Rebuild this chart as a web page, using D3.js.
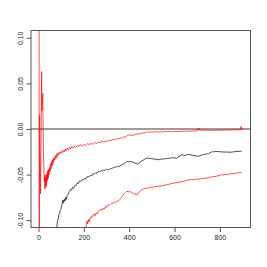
<!DOCTYPE html>
<html><head><meta charset="utf-8">
<script src="https://cdn.jsdelivr.net/npm/d3@7"></script>
<style>body{margin:0;background:#fff}svg{display:block}</style>
</head><body>
<script>
const xTicks = [0, 200, 400, 600, 800];
const yTicks = [-0.10, -0.05, 0.00, 0.05, 0.10];
const yTickLabels = ["-0.10", "-0.05", "0.00", "0.05", "0.10"];

const upperN = [2,3,5,7,9,11,13,14,15,17,19,20,22,24,26,27,28,30,31,33,34,36,37,39,40,42,43,45,47,49,51,53,55,57,59,61,63,65,67,70,72,75,78,81,84,87,90,94,98,102,106,110,114,118,122,127,132,137,142,147,153,159,165,172,178,185,192,200,208,216,224,232,240,248,256,264,272,280,288,296,304,312,320,328,336,344,352,360,368,376,384,392,400,408,416,424,432,440,448,456,464,472,480,490,500,510,520,530,540,550,560,570,580,590,600,610,620,630,640,650,660,670,680,690,700,703,705,708,712,720,730,740,750,760,770,780,790,800,810,820,830,840,850,860,870,880,890,894,896,900];
const upperV = [0.9,-0.25,0.015,-0.035,-0.071,-0.02,0.045,0.063,0.02,0.03,0.039,0.01,-0.025,-0.045,-0.058,-0.052,-0.066,-0.05,-0.062,-0.055,-0.064,-0.05,-0.058,-0.047,-0.056,-0.045,-0.054,-0.044,-0.05,-0.042,-0.047,-0.038,-0.044,-0.036,-0.041,-0.034,-0.039,-0.032,-0.036,-0.031,-0.034,-0.029,-0.032,-0.027,-0.03,-0.026,-0.028,-0.025,-0.027,-0.024,-0.026,-0.023,-0.025,-0.022,-0.024,-0.021,-0.023,-0.02,-0.022,-0.019,-0.021,-0.019,-0.02,-0.018,-0.019,-0.017,-0.019,-0.017,-0.018,-0.016,-0.017,-0.016,-0.0168,-0.015,-0.016,-0.0145,-0.015,-0.0135,-0.0142,-0.013,-0.0138,-0.012,-0.0128,-0.0115,-0.012,-0.0105,-0.011,-0.0098,-0.0102,-0.0085,-0.009,-0.007,-0.0065,-0.0068,-0.0072,-0.0062,-0.0055,-0.0058,-0.0045,-0.005,-0.004,-0.0045,-0.003,-0.0036,-0.003,-0.0035,-0.0028,-0.0034,-0.003,-0.0033,-0.0026,-0.003,-0.0025,-0.0032,-0.0027,-0.003,-0.0024,-0.0028,-0.0022,-0.0027,-0.0021,-0.0025,-0.002,-0.0023,-0.0017,0.0005,-0.0013,0.0008,-0.0014,-0.0012,-0.0016,-0.0011,-0.0015,-0.0012,-0.0017,-0.0012,-0.0014,-0.0011,-0.0015,-0.001,-0.0013,-0.0009,-0.0012,-0.0008,-0.0011,-0.0007,-0.0009,0.003,-0.0005,0.001];

const meanN = [75,81,84,87,90,93,96,99,102,105,108,111,114,117,120,123,126,130,134,138,142,146,150,155,160,165,170,175,180,186,192,198,204,210,216,222,228,234,240,246,252,258,264,270,276,282,288,294,300,306,312,318,324,330,336,342,348,354,360,366,372,378,384,390,396,403,410,417,424,431,438,444,450,456,462,468,474,482,490,498,506,514,522,530,538,546,554,562,570,578,586,594,602,610,616,620,625,630,638,646,654,662,670,678,686,694,703,712,720,728,736,744,750,756,762,768,772,776,782,792,800,810,820,830,840,851,860,870,880,890,896];
const meanV = [-0.13,-0.108,-0.1,-0.099,-0.094,-0.093,-0.089,-0.088,-0.084,-0.082,-0.078,-0.081,-0.077,-0.079,-0.075,-0.077,-0.073,-0.072,-0.069,-0.068,-0.066,-0.067,-0.064,-0.065,-0.062,-0.062,-0.0595,-0.06,-0.057,-0.0575,-0.0555,-0.056,-0.054,-0.0545,-0.052,-0.0525,-0.051,-0.0515,-0.049,-0.0495,-0.048,-0.0485,-0.0465,-0.047,-0.0455,-0.046,-0.045,-0.0455,-0.044,-0.0448,-0.0442,-0.0435,-0.043,-0.0425,-0.042,-0.0415,-0.041,-0.0415,-0.0405,-0.0395,-0.039,-0.038,-0.037,-0.0355,-0.0358,-0.0355,-0.0358,-0.0365,-0.0372,-0.0378,-0.0384,-0.037,-0.036,-0.035,-0.034,-0.0335,-0.032,-0.0319,-0.0322,-0.0325,-0.0328,-0.033,-0.0335,-0.0337,-0.0332,-0.033,-0.0328,-0.0325,-0.0322,-0.032,-0.0318,-0.0315,-0.0318,-0.032,-0.031,-0.0295,-0.0298,-0.028,-0.0285,-0.029,-0.0282,-0.028,-0.0283,-0.0287,-0.029,-0.0295,-0.030,-0.0292,-0.0285,-0.028,-0.0278,-0.0272,-0.027,-0.0262,-0.0255,-0.0245,-0.0255,-0.0242,-0.0248,-0.0247,-0.0249,-0.0251,-0.0253,-0.0252,-0.0255,-0.0254,-0.025,-0.0248,-0.0246,-0.0244,-0.0243];

const lowerN = [205,211,214,217,220,224,228,232,236,240,245,250,255,260,265,270,275,280,285,290,295,300,306,312,318,324,330,336,342,348,354,360,366,372,378,384,390,396,403,410,417,424,431,438,444,450,456,462,470,476,482,490,498,506,514,522,530,538,546,554,562,571,580,590,600,610,620,630,640,650,659,668,676,684,692,700,708,716,724,732,740,748,756,764,772,780,788,796,806,814,822,830,838,846,854,862,870,878,886,895];
const lowerV = [-0.115,-0.106,-0.101,-0.104,-0.099,-0.102,-0.097,-0.098,-0.095,-0.096,-0.093,-0.095,-0.092,-0.093,-0.09,-0.0895,-0.088,-0.089,-0.087,-0.088,-0.085,-0.086,-0.083,-0.084,-0.0825,-0.081,-0.0815,-0.08,-0.0805,-0.079,-0.0785,-0.077,-0.075,-0.073,-0.071,-0.0695,-0.068,-0.069,-0.0685,-0.0695,-0.0705,-0.0712,-0.0717,-0.0715,-0.069,-0.0675,-0.0665,-0.066,-0.065,-0.0652,-0.0645,-0.0642,-0.0635,-0.0638,-0.063,-0.0632,-0.0625,-0.0627,-0.062,-0.0618,-0.0612,-0.061,-0.0602,-0.0598,-0.059,-0.0588,-0.0582,-0.0578,-0.0572,-0.0568,-0.056,-0.0554,-0.0556,-0.0553,-0.0555,-0.0548,-0.055,-0.0545,-0.0542,-0.0544,-0.0538,-0.0536,-0.053,-0.0525,-0.052,-0.0522,-0.0515,-0.0512,-0.050,-0.0505,-0.0498,-0.0502,-0.0495,-0.0492,-0.0488,-0.049,-0.0485,-0.0482,-0.048,-0.0475];

const W = 267, H = 267;
const L = 31, R = 250.5, T = 30.5, B = 227.5;
const svg = d3.select("body").append("svg").attr("width", W).attr("height", H)
  .style("font-family", "'Liberation Sans', Arial, sans-serif");
svg.append("rect").attr("width", W).attr("height", H).attr("fill", "#fff");

const x = d3.scaleLinear().domain([-33, 935]).range([L, R]);
const y = d3.scaleLinear().domain([-0.108, 0.108]).range([B, T]);

svg.append("clipPath").attr("id", "clip").append("rect")
  .attr("x", L).attr("y", T).attr("width", R - L).attr("height", B - T);

const g = svg.append("g").attr("clip-path", "url(#clip)");
const line = d3.line().x(d => x(d[0])).y(d => y(d[1]));
const zip = (a, b) => a.map((v, i) => [v, b[i]]);

g.append("line").attr("x1", L).attr("x2", R).attr("y1", y(0)).attr("y2", y(0))
  .attr("stroke", "#222").attr("stroke-width", 0.9);

g.append("path").datum(zip(upperN, upperV)).attr("d", line)
  .attr("fill", "none").attr("stroke", "#ff0000").attr("stroke-width", 0.7);
g.append("path").datum(zip(lowerN, lowerV)).attr("d", line)
  .attr("fill", "none").attr("stroke", "#ff0000").attr("stroke-width", 0.7);
g.append("path").datum(zip(meanN, meanV)).attr("d", line)
  .attr("fill", "none").attr("stroke", "#000").attr("stroke-width", 0.7);

// box
svg.append("rect").attr("x", L).attr("y", T).attr("width", R - L).attr("height", B - T)
  .attr("fill", "none").attr("stroke", "#555").attr("stroke-width", 1);

// x axis
const xa = svg.append("g").attr("transform", `translate(0,${B})`)
  .call(d3.axisBottom(x).tickValues(xTicks).tickFormat(d3.format("d")).tickSize(4.5).tickPadding(3.5));
xa.select(".domain").remove();
xa.selectAll("line").attr("stroke", "#555");
xa.selectAll("text").attr("font-size", 7).attr("fill", "#222").attr("font-family", "'Liberation Sans', Arial, sans-serif");

// y axis
const ya = svg.append("g").attr("transform", `translate(${L},0)`)
  .call(d3.axisLeft(y).tickValues(yTicks).tickFormat((d, i) => yTickLabels[i]).tickSize(4.5));
ya.select(".domain").remove();
ya.selectAll("line").attr("stroke", "#555");
ya.selectAll("text")
  .attr("font-size", 7).attr("fill", "#222").attr("font-family", "'Liberation Sans', Arial, sans-serif")
  .attr("x", null).attr("dy", null)
  .attr("text-anchor", "middle")
  .attr("transform", "translate(-8.5,0) rotate(-90)");
</script>
</body></html>
